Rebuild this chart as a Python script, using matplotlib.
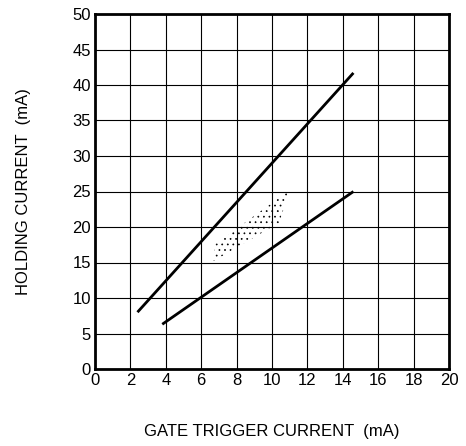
import matplotlib
matplotlib.use("Agg")
import matplotlib.pyplot as plt
from matplotlib.patches import Polygon

plt.rcParams['font.family'] = ['Liberation Sans', 'DejaVu Sans']
plt.rcParams['hatch.linewidth'] = 0.5

# upper and lower boundary lines
upper_x = [2.4, 14.6]
upper_y = [8.0, 41.7]
lower_x = [3.8, 14.6]
lower_y = [6.3, 25.0]

# dotted band (typical region)
band_x = [6.7, 10.4, 11.0, 6.8]
band_y = [15.2, 20.6, 25.2, 17.6]

xticks = list(range(0, 21, 2))
yticks = list(range(0, 51, 5))

fig = plt.figure(figsize=(4.66, 4.46), dpi=100)
ax = fig.add_axes([95 / 466, 1 - 369 / 446, 354 / 466, 355 / 446])

ax.set_xlim(0, 20)
ax.set_ylim(0, 50)
ax.set_xticks(xticks)
ax.set_yticks(yticks)
ax.grid(True, color='black', linewidth=0.8)
ax.set_axisbelow(True)
ax.tick_params(length=0, labelsize=12, pad=3)
for s in ax.spines.values():
    s.set_linewidth(2)

ax.plot(upper_x, upper_y, color='black', linewidth=2, solid_capstyle='butt')
ax.plot(lower_x, lower_y, color='black', linewidth=2, solid_capstyle='butt')

band = Polygon(list(zip(band_x, band_y)), closed=True, fill=False,
               hatch='...', edgecolor='black', linewidth=0)
ax.add_patch(band)

ax.set_xlabel('GATE TRIGGER CURRENT  (mA)', fontsize=12, labelpad=26)
ax.set_ylabel('HOLDING CURRENT  (mA)', fontsize=12, labelpad=30)

fig.savefig('out.png', dpi=100)
